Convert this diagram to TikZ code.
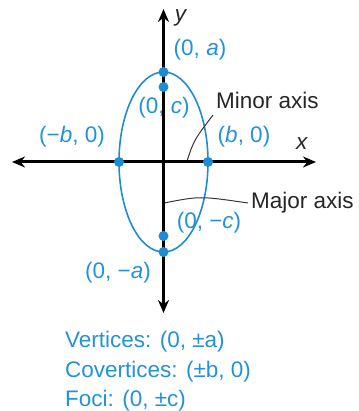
\documentclass[tikz,border=0pt]{standalone}
\usepackage{fontspec}
\setmainfont{Liberation Sans}
\usetikzlibrary{arrows.meta}
\definecolor{eblue}{RGB}{30,140,212}
\definecolor{tblue}{RGB}{36,146,216}
\definecolor{leader}{RGB}{55,55,55}
\tikzset{
  axisline/.style={line width=3pt,black,-{Stealth[length=13pt,width=11pt]}},
  dot/.style={circle,fill=eblue,inner sep=0pt,minimum size=10pt},
  lbl/.style={text=tblue,inner sep=0pt,font=\fontsize{22.5}{27}\selectfont},
  blk/.style={text=black!85,inner sep=0pt,font=\fontsize{22.5}{27}\selectfont},
  leaderline/.style={draw=leader,line width=1pt},
  info/.style={text=tblue,inner sep=0pt,anchor=base west,font=\fontsize{22.5}{28}\selectfont},
}
\begin{document}
\begin{tikzpicture}[x=1pt,y=-1pt]
\useasboundingbox (0,0) rectangle (358,411);
\coordinate (O) at (163.5,162);
\coordinate (xl) at (12,162);
\coordinate (xr) at (316,162);
\coordinate (yt) at (163.5,9);
\coordinate (yb) at (163.5,313);
% ellipse
\draw[eblue,line width=1.6pt] (O) ellipse [x radius=44.5, y radius=90];
% leader lines
\coordinate (mi1) at (187,161);
\coordinate (mi2) at (213,115);
\coordinate (ma1) at (164,203);
\coordinate (ma2) at (248,203);
\draw[leaderline] (mi1) .. controls (194,140) .. (mi2);
\draw[leaderline] (ma1) .. controls (200,196) .. (ma2);
% labels
\node[lbl] (la) at (200,50) {(0, \textit{a})};
\node[lbl] (lc) at (164,108) {(0, \textit{c})};
\node[lbl] (lmb) at (72,137) {(−\textit{b}, 0)};
\node[lbl] (lb) at (244,137) {(\textit{b}, 0)};
\node[lbl] (lmc) at (209,223) {(0, −\textit{c})};
\node[lbl] (lma) at (118,273) {(0, −\textit{a})};
\node[blk,anchor=west] (minor) at (216,100) {Minor axis};
\node[blk,anchor=west] (major) at (251,203) {Major axis};
\node[blk] (ylab) at (181,18) {\textit{y}};
\node[blk] (xlab) at (302,144) {\textit{x}};
% axes
\draw[axisline] (O) -- (xr);
\draw[axisline] (O) -- (xl);
\draw[axisline] (O) -- (yt);
\draw[axisline] (O) -- (yb);
% dots
\node[dot] (v1) at (163.5,72) {};
\node[dot] (v2) at (163.5,252) {};
\node[dot] (f1) at (163.5,87) {};
\node[dot] (f2) at (163.5,236) {};
\node[dot] (c1) at (119,162) {};
\node[dot] (c2) at (208,162) {};
% info text
\node[info] (t1) at (65,347) {Vertices: (0, ±a)};
\node[info] (t2) at (65,377) {Covertices: (±b, 0)};
\node[info] (t3) at (65,406) {Foci: (0, ±c)};
\end{tikzpicture}
\end{document}
